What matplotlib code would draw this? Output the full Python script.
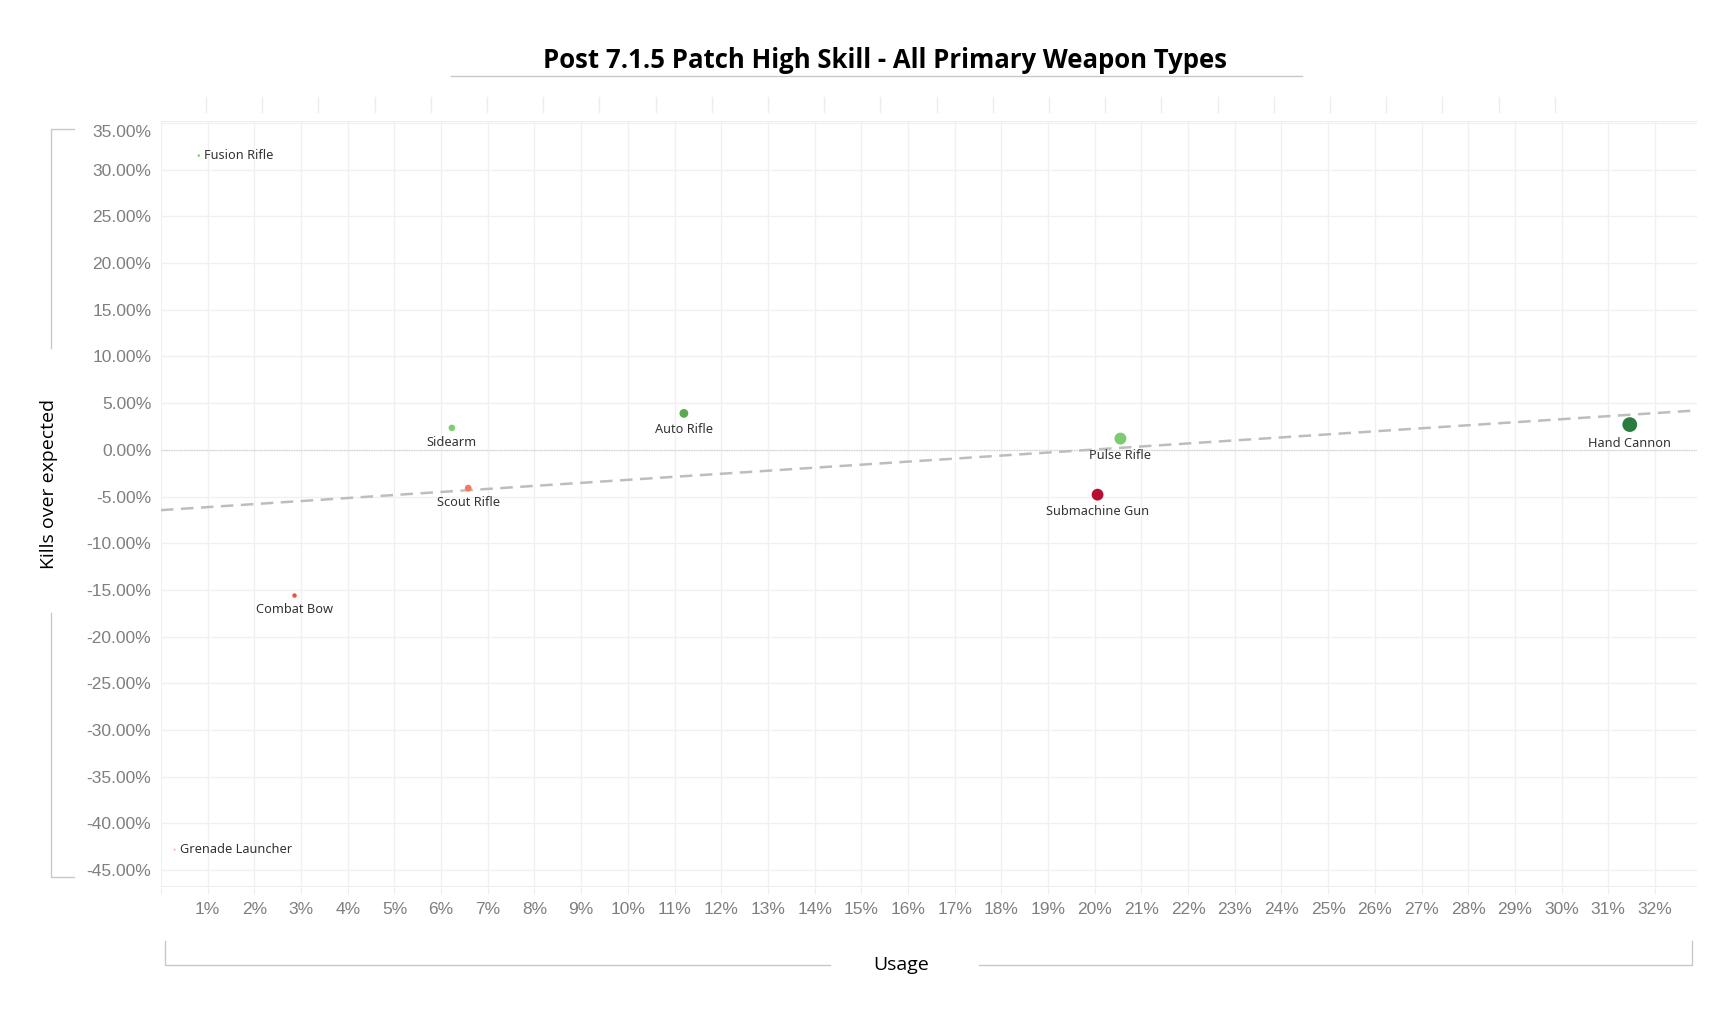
import numpy as np
import matplotlib.pyplot as plt
from matplotlib.lines import Line2D
from matplotlib.ticker import FuncFormatter, MultipleLocator
from matplotlib.transforms import ScaledTranslation

# data
weapons = ['Fusion Rifle', 'Grenade Launcher', 'Combat Bow', 'Sidearm', 'Scout Rifle',
           'Auto Rifle', 'Pulse Rifle', 'Submachine Gun', 'Hand Cannon']
usage = [0.81, 0.29, 2.86, 6.23, 6.58, 11.2, 20.55, 20.06, 31.46]
kills_over = [31.5, -42.8, -15.6, 2.35, -4.1, 3.9, 1.2, -4.8, 2.7]
colors = ['#74c46a', '#f4a6a0', '#f2502f', '#80cc73', '#f27a5e',
          '#5aab4f', '#7fc972', '#b80d32', '#2b7c3f']

W, H = 1725, 1011
fig = plt.figure(figsize=(W / 100, H / 100), dpi=100)
ax = fig.add_axes([161 / W, 1 - 887 / H, (1697 - 161) / W, (887 - 121) / H])

x = np.array(usage)
y = np.array(kills_over)
sizes = np.maximum(3.6 * x, 2.0)

# grid
ax.set_xlim(0, 32.9)
ax.set_ylim(-46.8, 35.2)
ax.xaxis.set_major_locator(MultipleLocator(1))
ax.yaxis.set_major_locator(MultipleLocator(5))
ax.grid(True, color='#f0f0f0', lw=1.0)
ax.set_axisbelow(True)
for s in ax.spines.values():
    s.set_visible(False)
ax.axhline(0, color='#cfcfcf', lw=0.9, ls=(0, (1, 1)), zorder=1)
ax.axhline(35.2, color='#eeeeee', lw=1.5, zorder=1)
ax.axhline(-46.8, color='#eeeeee', lw=1.5, zorder=1)

# trend line
slope, icpt = np.polyfit(x, y, 1)
xl = np.array([0, 32.9])
ax.plot(xl, slope * xl + icpt, color='#bdbdbd', lw=1.8, ls=(0, (5, 3)), zorder=2)

ax.scatter(x, y, s=sizes, c=colors, zorder=3, linewidths=0)

for name, xi, yi, si in zip(weapons, x, y, sizes):
    r = np.sqrt(si) / 2
    if name in ('Fusion Rifle', 'Grenade Launcher'):
        ax.annotate(name, (xi, yi), xytext=(4, 0), textcoords='offset points',
                    ha='left', va='center', fontsize=9.2, color='#333333',
                    family='Noto Sans')
    else:
        ax.annotate(name, (xi, yi), xytext=(0, -(r + 3.5)), textcoords='offset points',
                    ha='center', va='top', fontsize=9.2, color='#333333',
                    family='Noto Sans')

ax.xaxis.set_major_formatter(FuncFormatter(lambda v, p: '' if v < 0.5 or v > 32.5 else f'{v:.0f}%'))
ax.yaxis.set_major_formatter(FuncFormatter(lambda v, p: f'{v:.2f}%'))
ax.tick_params(axis='x', length=5, color='#eeeeee', pad=6, labelsize=12.5, labelcolor='#7f7f7f')
ax.tick_params(axis='y', length=0, pad=7, labelsize=12.5, labelcolor='#7f7f7f')
for lab in ax.get_xticklabels() + ax.get_yticklabels():
    lab.set_family('Liberation Sans')
# top label sits clamped inside the plot, like the reference
for tick, val in zip(ax.yaxis.get_major_ticks(), ax.get_yticks()):
    if abs(val - 35) < 0.01:
        tick.label1.set_transform(tick.label1.get_transform()
                                  + ScaledTranslation(0, -0.08, fig.dpi_scale_trans))

# title + underline
fig.text(885 / W, 1 - 60 / H, 'Post 7.1.5 Patch High Skill - All Primary Weapon Types',
         ha='center', va='center', fontsize=18.5, fontweight='bold', family='Open Sans')
fig.add_artist(Line2D([451 / W, 1302 / W], [1 - 76 / H, 1 - 76 / H], color='#c8c8c8', lw=1))

# faint header tick marks
for px in np.arange(206, 1560, 56.2):
    fig.add_artist(Line2D([px / W, px / W], [1 - 97 / H, 1 - 112 / H], color='#ececec', lw=1))

# y axis title with bracket
fig.text(49 / W, 1 - 484 / H, 'Kills over expected', rotation=90, ha='center', va='center',
         fontsize=14, family='Open Sans')
bc = '#c8c8c8'
fig.add_artist(Line2D([74 / W, 51 / W, 51 / W], [1 - 129 / H, 1 - 129 / H, 1 - 348 / H], color=bc, lw=1))
fig.add_artist(Line2D([51 / W, 51 / W, 74 / W], [1 - 613 / H, 1 - 877 / H, 1 - 877 / H], color=bc, lw=1))

# x axis title with bracket
fig.text(901 / W, 1 - 965 / H, 'Usage', ha='center', va='center', fontsize=14, family='Open Sans')
fig.add_artist(Line2D([165 / W, 165 / W, 830 / W], [1 - 941 / H, 1 - 965 / H, 1 - 965 / H], color=bc, lw=1))
fig.add_artist(Line2D([979 / W, 1692 / W, 1692 / W], [1 - 965 / H, 1 - 965 / H, 1 - 941 / H], color=bc, lw=1))

fig.savefig('out.png', dpi=100, facecolor='white')
